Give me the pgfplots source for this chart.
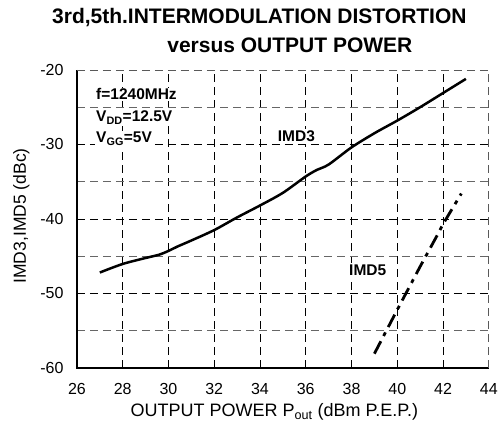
\documentclass[border=0pt]{standalone}
\usepackage{fontspec}
\setmainfont{Liberation Sans}
\usepackage{pgfplots}
\pgfplotsset{compat=1.18}
\begin{document}
\begin{tikzpicture}
\begin{axis}[
  at={(0,0)}, anchor=south west,
  scale only axis, width=412pt, height=298pt,
  xmin=26, xmax=44, ymin=-60, ymax=-20,
  xtick={26,28,...,44}, ytick={-60,-50,...,-20},
  minor ytick={-55,-45,...,-25},
  grid=both,
  major grid style={black, dash pattern=on 8pt off 5pt, line width=0.7pt},
  minor grid style={gray!80!black, dash pattern=on 8pt off 5pt, line width=0.7pt},
  axis line style={draw=none},
  major tick length=0pt, minor tick length=0pt,
  tick label style={font=\fontsize{16}{18}\selectfont},
  /pgf/number format/assume math mode=true,
  xticklabel style={yshift=-12pt},
  yticklabel style={xshift=-10pt},
  xlabel={OUTPUT POWER P\textsubscript{out} (dBm P.E.P.)},
  ylabel={IMD3,IMD5 (dBc)},
  label style={font=\fontsize{17.5}{20}\selectfont},
  xlabel style={font=\fontsize{18}{20}\selectfont, yshift=-2pt, xshift=-8.5pt},
  ylabel style={yshift=4pt, xshift=3pt},
  clip=false,
]
\draw[black, line width=1.5pt] (rel axis cs:0,1) -- (rel axis cs:0,0) -- (rel axis cs:1,0);
\draw[gray!70!black, dash pattern=on 8pt off 5pt, line width=0.9pt] (rel axis cs:1,0) -- (rel axis cs:1,1) -- (rel axis cs:0,1);
\addplot[black, line width=2.5pt, smooth] coordinates {
(27,-47.2)(28,-46.05)(29,-45.25)(29.6,-44.8)(30,-44.3)(30.4,-43.7)(31,-42.9)(32,-41.5)(33,-39.8)(34,-38.2)(35,-36.5)(36,-34.3)(36.5,-33.4)(37,-32.7)(38,-30.4)(39,-28.5)(40,-26.8)(41,-25)(42,-23.1)(43,-21.2)
};
\addplot[black, line width=2.8pt, dash pattern=on 14pt off 6pt on 4pt off 6pt] coordinates {
(39,-58.1)(40,-52.2)(41,-46.4)(41.8,-41.9)(42,-40.7)(42.8,-36.6)
};
\node[font=\bfseries\fontsize{15.5}{17}\selectfont, fill=white, inner sep=2pt, anchor=base] at (axis cs:35.59,-29.66) {IMD3};
\node[font=\bfseries\fontsize{15.5}{17}\selectfont, fill=white, inner sep=2pt, anchor=base] at (axis cs:38.71,-47.65) {IMD5};
\node[font=\bfseries\fontsize{15.5}{17}\selectfont, anchor=base west, fill=white, inner sep=1pt] at (axis cs:26.79,-24.03) {f=1240MHz};
\node[font=\bfseries\fontsize{15.5}{17}\selectfont, anchor=base west, fill=white, inner sep=1pt] at (axis cs:26.79,-26.98) {V\textsubscript{DD}=12.5V};
\node[font=\bfseries\fontsize{15.5}{17}\selectfont, anchor=base west, fill=white, inner sep=1pt] at (axis cs:26.79,-29.8) {V\textsubscript{GG}=5V};
\end{axis}
\node[font=\bfseries\fontsize{21}{24}\selectfont, anchor=base west, inner sep=0pt] at (-25pt,344pt) {3rd,5th.INTERMODULATION DISTORTION};
\node[font=\bfseries\fontsize{21}{24}\selectfont, anchor=base, inner sep=0pt] at (213pt,315pt) {versus OUTPUT POWER};
\path[use as bounding box] (-77pt,-66pt) rectangle (424pt,368pt);
\end{tikzpicture}
\end{document}
